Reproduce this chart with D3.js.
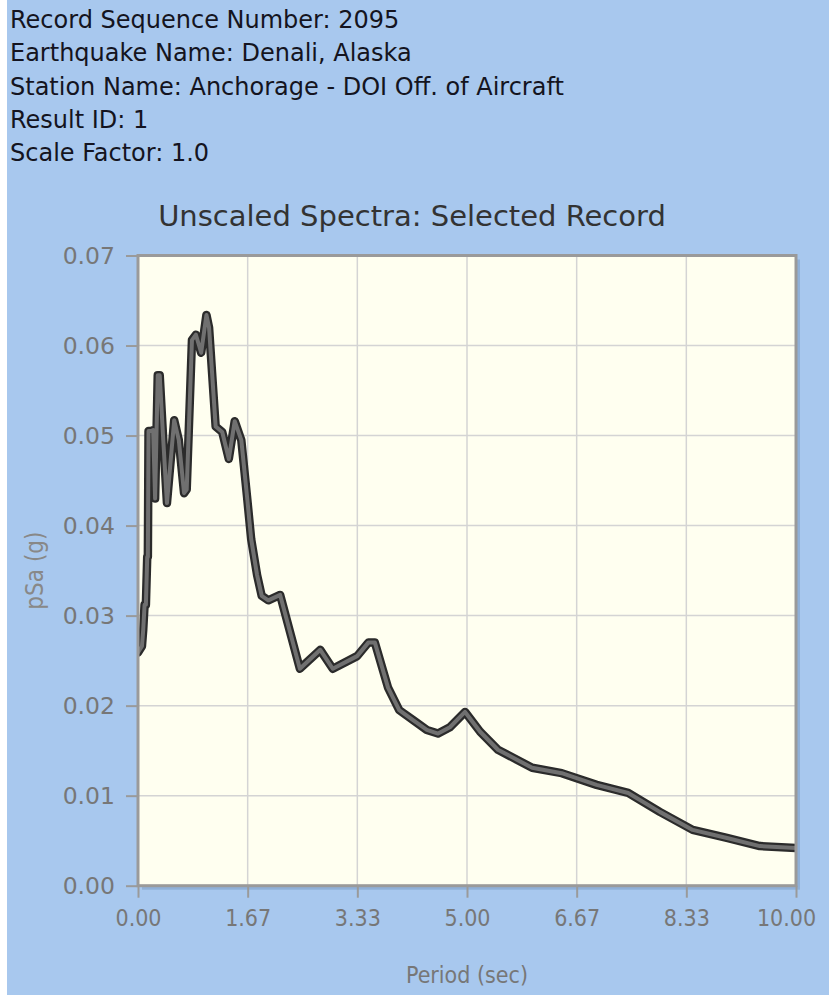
<!DOCTYPE html>
<html><head><meta charset="utf-8">
<script src="https://cdn.jsdelivr.net/npm/d3@7"></script>
<style>
html,body{margin:0;padding:0;background:#fff;}
svg{display:block;}
</style></head>
<body>
<script>
const headerLines = [
  "Record Sequence Number: 2095",
  "Earthquake Name: Denali, Alaska",
  "Station Name: Anchorage - DOI Off. of Aircraft",
  "Result ID: 1",
  "Scale Factor: 1.0"
];
const chartTitle = "Unscaled Spectra: Selected Record";
const xTitle = "Period (sec)";
const yTitle = "pSa (g)";
const xTicks = [0, 1.6667, 3.3333, 5, 6.6667, 8.3333, 10];
const yTicks = [0, 0.01, 0.02, 0.03, 0.04, 0.05, 0.06, 0.07];
const periods = [0.00,0.06,0.08,0.10,0.12,0.14,0.15,0.16,0.20,0.23,0.26,0.30,0.33,0.38,0.44,0.55,0.62,0.70,0.74,0.82,0.88,0.96,1.04,1.08,1.18,1.28,1.38,1.47,1.57,1.66,1.72,1.81,1.88,1.98,2.16,2.46,2.77,2.96,3.33,3.50,3.60,3.80,3.97,4.18,4.39,4.56,4.74,4.97,5.20,5.47,5.99,6.44,6.97,7.45,7.93,8.43,8.95,9.45,10.0];
const psa = [0.0259,0.0266,0.0285,0.0312,0.0312,0.0365,0.0365,0.0505,0.0505,0.0506,0.0430,0.0567,0.0567,0.0500,0.0425,0.0517,0.0495,0.0436,0.0440,0.0606,0.0612,0.0592,0.0634,0.0620,0.0510,0.0504,0.0474,0.0516,0.0495,0.0430,0.0385,0.0345,0.0322,0.0317,0.0323,0.0241,0.0262,0.0241,0.0255,0.0270,0.0270,0.0220,0.0195,0.0184,0.0173,0.0169,0.0176,0.0193,0.0171,0.0151,0.0131,0.0125,0.0112,0.0103,0.0082,0.0062,0.0053,0.0044,0.0042];

const W = 829, H = 995;
const svg = d3.select("body").append("svg").attr("width", W).attr("height", H);
svg.append("rect").attr("x", 7).attr("y", 0).attr("width", W - 7).attr("height", H).attr("fill", "#a8c8ee");

const hdrFont = "DejaVu Sans, Verdana, sans-serif";
const chartFont = "DejaVu Sans Condensed, DejaVu Sans, sans-serif";

svg.append("g").selectAll("text").data(headerLines).join("text")
  .attr("x", 10).attr("y", (d, i) => 28 + i * 33.3)
  .attr("font-family", hdrFont).attr("font-size", 24).attr("fill", "#141420")
  .text(d => d);

svg.append("text").attr("x", 412).attr("y", 226).attr("text-anchor", "middle")
  .attr("font-family", hdrFont).attr("font-size", 29).attr("fill", "#333")
  .text(chartTitle);

const L = 138, R = 796, T = 255.5, B = 885.7;
const x = d3.scaleLinear().domain([0, 10]).range([L, R]);
const y = d3.scaleLinear().domain([0, 0.07]).range([B, T]);

// shadow
svg.append("rect").attr("x", L + 4).attr("y", T + 4).attr("width", R - L).attr("height", B - T)
  .attr("fill", "#8fb0d8");
svg.append("rect").attr("x", L).attr("y", T).attr("width", R - L).attr("height", B - T)
  .attr("fill", "#fffff0");

// grid
const grid = svg.append("g");
grid.selectAll("line.gx").data(xTicks.slice(1, -1)).join("line")
  .attr("x1", d => x(d)).attr("x2", d => x(d)).attr("y1", T).attr("y2", B)
  .attr("stroke", "#d4d4d4").attr("stroke-width", 1.5);
grid.selectAll("line.gy").data(yTicks.slice(1, -1)).join("line")
  .attr("y1", d => y(d)).attr("y2", d => y(d)).attr("x1", L).attr("x2", R)
  .attr("stroke", "#d4d4d4").attr("stroke-width", 1.5);

// line
const line = d3.line().x((d, i) => x(periods[i])).y(d => y(d)).curve(d3.curveLinear);
svg.append("clipPath").attr("id", "clip").append("rect")
  .attr("x", L).attr("y", T).attr("width", R - L).attr("height", B - T);
svg.append("path").datum(psa).attr("d", line).attr("fill", "none")
  .attr("stroke", "#2b2b2b").attr("stroke-width", 8.5).attr("stroke-linejoin", "round").attr("stroke-linecap", "round")
  .attr("clip-path", "url(#clip)");
svg.append("path").datum(psa).attr("d", line).attr("fill", "none")
  .attr("stroke", "#707070").attr("stroke-width", 4).attr("stroke-linejoin", "round").attr("stroke-linecap", "round")
  .attr("clip-path", "url(#clip)");

// frame
svg.append("rect").attr("x", L).attr("y", T).attr("width", R - L).attr("height", B - T)
  .attr("fill", "none").attr("stroke", "#9a9a9a").attr("stroke-width", 3);

// axes
const xAxis = d3.axisBottom(x).tickValues(xTicks).tickFormat(d3.format(".2f")).tickSize(12).tickPadding(12);
const gx = svg.append("g").attr("transform", `translate(0,${B})`).call(xAxis);
gx.select(".domain").remove();
gx.selectAll(".tick line").attr("stroke", "#9a9a9a").attr("stroke-width", 2);
gx.selectAll(".tick text").attr("font-family", chartFont).attr("font-size", 23).attr("fill", "#777")
  .attr("dx", (d, i) => i === xTicks.length - 1 ? -10 : 0);

const yAxis = d3.axisLeft(y).tickValues(yTicks).tickFormat(d3.format(".2f")).tickSize(12).tickPadding(11);
const gy = svg.append("g").attr("transform", `translate(${L},0)`).call(yAxis);
gy.select(".domain").remove();
gy.selectAll(".tick line").attr("stroke", "#9a9a9a").attr("stroke-width", 2);
gy.selectAll(".tick text").attr("font-family", hdrFont).attr("font-size", 23.5).attr("fill", "#777");

svg.append("text").attr("x", (L + R) / 2).attr("y", 983).attr("text-anchor", "middle")
  .attr("font-family", chartFont).attr("font-size", 23).attr("fill", "#777").text(xTitle);
svg.append("text").attr("transform", `translate(43,${(T + B) / 2}) rotate(-90)`).attr("text-anchor", "middle")
  .attr("font-family", chartFont).attr("font-size", 24).attr("fill", "#888").text(yTitle);
</script>
</body></html>
